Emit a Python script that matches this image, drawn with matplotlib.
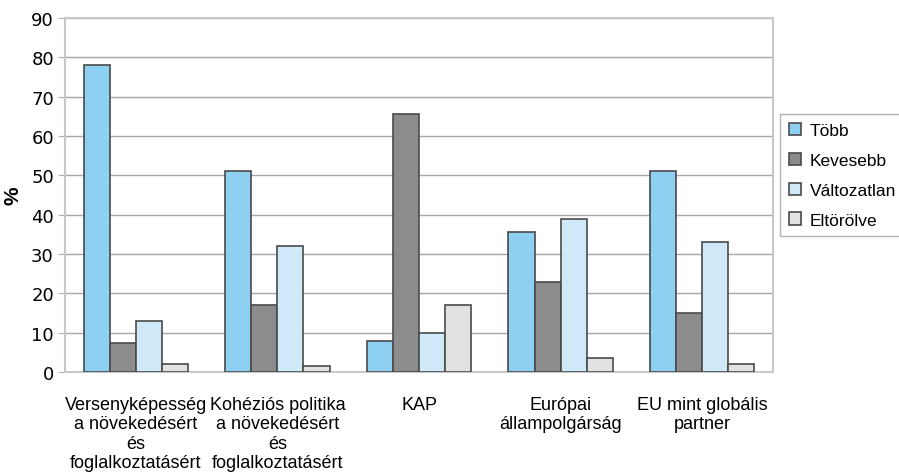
import numpy as np
import matplotlib.pyplot as plt

categories = ["Versenyképesség\na növekedésért\nés\nfoglalkoztatásért",
              "Kohéziós politika\na növekedésért\nés\nfoglalkoztatásért",
              "KAP",
              "Európai\nállampolgárság",
              "EU mint globális\npartner"]
series = ["Több", "Kevesebb", "Változatlan", "Eltörölve"]
tobb = [78, 51, 8, 35.5, 51]
kevesebb = [7.5, 17, 65.5, 23, 15]
valtozatlan = [13, 32, 10, 39, 33]
eltorolve = [2, 1.5, 17, 3.5, 2]
colors = ["#8dd0f2", "#8c8c8c", "#cfe9f8", "#e2e2e2"]

plt.rcParams['font.family'] = ['Liberation Sans', 'DejaVu Sans']

fig = plt.figure(figsize=(8.99, 4.77), dpi=100)
ax = fig.add_axes([65/899, 1-373/477, 708/899, 354/477])

x = np.arange(len(categories))
w = 0.184
for i, (name, vals) in enumerate(zip(series, [tobb, kevesebb, valtozatlan, eltorolve])):
    ax.bar(x + (i - 1.5) * w, vals, w, color=colors[i], edgecolor="#4a4a4a",
           linewidth=1.2, label=name, zorder=3)

ax.set_ylim(0, 90)
ax.set_xlim(-0.5, len(categories) - 0.5)
ax.set_yticks(range(0, 91, 10))
ax.set_yticklabels([str(v) for v in range(0, 91, 10)], family=['DejaVu Sans'])
ax.tick_params(axis='y', labelsize=13, length=5, color="#b0b0b0", pad=3)
ax.set_xticks(x)
ax.set_xticklabels(categories, fontsize=13, linespacing=1.2)
ax.tick_params(axis='x', length=0, pad=17)
ax.grid(axis='y', color="#a8a8a8", linewidth=1.0, zorder=0)
for s in ax.spines.values():
    s.set_color("#c8c8c8")
    s.set_linewidth(1.5)
ax.set_ylabel("%", fontsize=15, fontweight='bold', labelpad=6)

leg = ax.legend(loc='upper left', bbox_to_anchor=(1 + 7/708, 1 - (115-19)/354),
                frameon=True, fontsize=12.5, handlelength=0.7, handleheight=0.7,
                borderaxespad=0, labelspacing=0.85, handletextpad=0.5, fancybox=False,
                borderpad=0.5)
leg.get_frame().set_edgecolor("#a0a0a0")

fig.savefig("out.png", dpi=100)
